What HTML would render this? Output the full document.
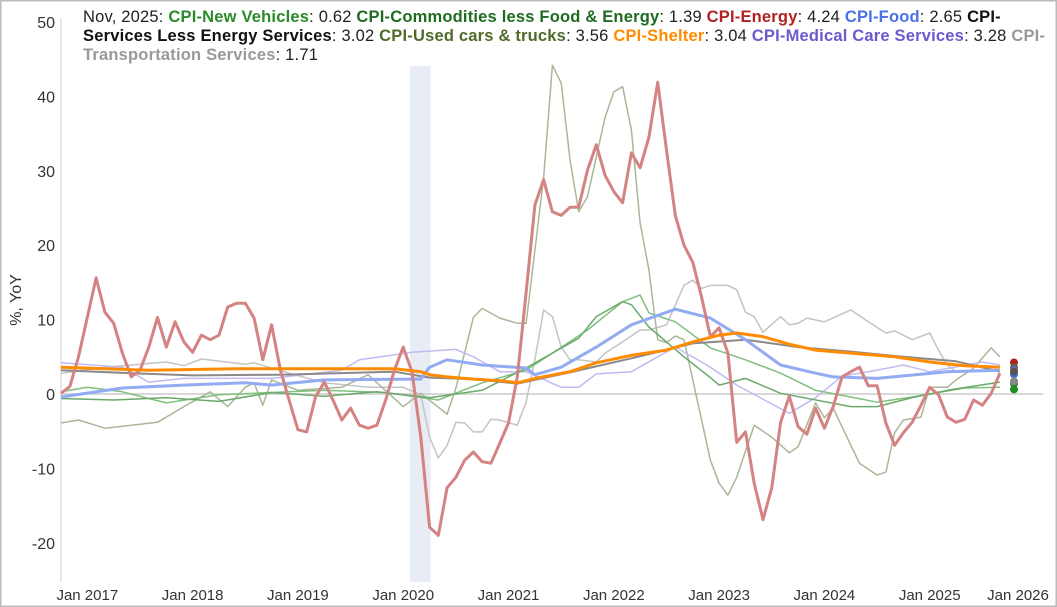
<!DOCTYPE html>
<html><head><meta charset="utf-8"><style>
body{margin:0;background:#fff;}
#wrap{position:relative;width:1057px;height:607px;font-family:"Liberation Sans",sans-serif;}
#legend{position:absolute;left:83px;top:8px;width:965px;font-size:16.5px;line-height:19px;color:#222;letter-spacing:0.2px;}
#legend b{font-weight:bold;}
</style></head><body>
<div id="wrap">
<svg id="svg" width="1057" height="607" style="position:absolute;left:0;top:0"></svg>
<div id="legend">Nov, 2025: <b style="color:#2a8a2a">CPI-New Vehicles</b>: 0.62 <b style="color:#1f6b1f">CPI-Commodities less Food &amp; Energy</b>: 1.39 <b style="color:#b22222">CPI-Energy</b>: 4.24 <b style="color:#4a72e8">CPI-Food</b>: 2.65 <b style="color:#111">CPI-Services Less Energy Services</b>: 3.02 <b style="color:#4f6b2a">CPI-Used cars &amp; trucks</b>: 3.56 <b style="color:#ff8c00">CPI-Shelter</b>: 3.04 <b style="color:#6a5acd">CPI-Medical Care Services</b>: 3.28 <b style="color:#999">CPI-Transportation Services</b>: 1.71</div>
</div>
<script>
const yTicks=[50,40,30,20,10,0,-10,-20];
const xLabels=["Jan 2017","Jan 2018","Jan 2019","Jan 2020","Jan 2021","Jan 2022","Jan 2023","Jan 2024","Jan 2025","Jan 2026"];
const xLabelMonths=[3,15,27,39,51,63,75,87,99,111];
const recession=[40,42];
const energyM=[0,1,2,3,4,5,6,7,8,9,10,11,12,13,14,15,16,17,18,19,20,21,22,23,24,25,26,27,28,29,30,31,32,33,34,35,36,37,38,39,40,41,42,43,44,45,46,47,48,49,50,51,52,53,54,55,56,57,58,59,60,61,62,63,64,65,66,67,68,69,70,71,72,73,74,75,76,77,78,79,80,81,82,83,84,85,86,87,88,89,90,91,92,93,94,95,96,97,98,99,100,101,102,103,104,105,106,107];
const energyV=[0.1,1,5,10.3,15.6,11,9.5,5.5,2.3,3.2,6.3,10.3,6.3,9.7,7,5.6,7.9,7.3,7.9,11.7,12.2,12.2,10.2,4.6,9.3,3.2,-0.8,-4.8,-5.1,-0.4,1.6,-0.8,-3.5,-1.9,-4.2,-4.6,-4.2,-0.8,3.2,6.3,3,-5.8,-17.9,-19,-12.6,-11.2,-8.9,-7.8,-9.1,-9.3,-6.6,-3.9,2.3,13.6,25.4,28.8,24.5,24,25.1,25.1,30.1,33.5,29.4,27.2,25.7,32.4,30.4,34.5,41.9,32.8,24,20,17.7,13,7.7,8.9,5.5,-6.5,-5.1,-12,-16.9,-12.6,-3.8,-0.3,-4.4,-5.4,-1.9,-4.6,-1.7,2.3,3,3.6,1.1,1.1,-3.9,-6.9,-5.2,-3.8,-1.5,0.9,-0.1,-3.1,-3.8,-3.4,-0.8,-1.5,0.1,2.8];
const shelterM=[0,10,20,30,38,41,42,44,47,50,52,54,58,61,65,69,72,75,77,80,83,86,90,95,99,103,107];
const shelterV=[3.6,3.2,3.4,3.4,3.4,3.0,2.6,2.3,2.0,1.8,1.5,2.1,3.0,4.2,5.2,5.9,7.0,7.9,8.2,7.7,6.7,5.9,5.5,5.0,4.3,3.8,3.6];
const servicesM=[0,8,15,25,38,42,47,52,58,65,72,78,84,90,96,102,107];
const servicesV=[3.2,2.8,2.5,2.6,3.0,2.2,2.0,1.4,2.9,4.8,6.8,7.3,6.3,5.7,5.0,4.4,3.0];
const foodM=[0,7,14,21,24,30,40,41,42,44,48,53,54,57,61,65,70,74,78,82,86,88,93,101,107];
const foodV=[-0.4,0.8,1.2,1.5,1.2,1.9,2.0,2.0,3.6,4.6,3.9,3.5,2.6,3.6,6.3,9.3,11.4,10.2,7.3,3.9,2.8,2.3,2.1,3.0,3.2];
const medicalM=[0,7,10,14,24,32,34,40,45,47,50,53,57,59,61,65,68,70,73,74,77,83,86,89,93,96,99,105,107];
const medicalV=[4.2,3.6,1.6,2.1,2.1,3.2,4.6,5.6,6.0,5.0,3.0,3.0,0.9,0.9,2.7,3.0,5.0,6.3,4.3,3.6,1.2,-2.6,-0.5,2.4,3.2,3.9,3.0,4.3,3.9];
const vehiclesM=[0,3,7,12,18,30,37,43,48,53,56,60,64,66,67,70,74,78,82,86,90,93,97,103,107];
const vehiclesV=[0.3,0.9,0.3,-1.2,-0.1,0.5,0.2,-0.8,1.5,3.2,5.5,8.6,12.4,13.3,10.9,9.7,6.2,4.6,2.8,0.5,-0.4,-1.1,-0.4,0.8,0.9];
const commodM=[0,6,12,18,24,30,36,42,48,53,56,59,61,64,65,67,71,74,75,78,82,90,93,97,101,107];
const commodV=[-0.6,-0.8,-0.5,-1.0,0.2,-0.3,0.3,-0.5,0.5,3.5,5.5,7.5,10.4,12.4,12.0,9.0,5.0,2.2,1.2,2.1,0.1,-1.7,-1.7,-0.5,0.5,1.6];
const usedM=[0,2,5,11,14,17,19,21,22,23,24,27,32,35,39,41,44,45,47,48,50,52,53,55,56,57,58,59,60,62,63,64,65,66,67,68,69,70,71,72,74,75,76,77,79,81,83,84,86,87,88,90,91,93,94,95,96,98,99,101,102,104,106,107];
const usedV=[-3.9,-3.5,-4.6,-3.8,-1.7,0.3,-1.7,0.9,1.5,-1.5,1.9,0.5,0.9,2.6,-1.7,0.1,-2.7,0.8,10.3,11.5,10.2,9.5,9.5,29,44.2,41.8,31.5,24.5,26.5,37.2,40.6,41.3,35.5,23,16.7,7.3,6.9,7.8,7.3,1.9,-8.9,-12,-13.6,-11.2,-4.2,-5.8,-7.9,-7.1,-1.2,-3.2,-1.9,-6.9,-9.3,-10.9,-10.5,-5.2,-3.5,-3.1,0.9,0.9,1.9,3.5,6.2,5.0];
const transM=[0,5,12,14,16,21,22,26,30,35,39,41,42,43,44,45,46,47,48,49,50,52,53,54,55,56,57,58,59,61,62,64,66,67,69,71,72,73,74,75,76,77,78,79,80,82,83,84,85,87,90,92,94,95,97,99,100,101,102,105,107];
const transV=[2.8,3.6,4.3,3.8,4.7,4.0,4.2,2.8,1.5,0.9,0.9,-0.1,-5.8,-8.6,-6.9,-3.8,-3.9,-5.1,-5.1,-3.4,-3.5,-4.2,-1.1,4.6,11.3,10.4,6.3,4.6,4.6,4.3,5.5,7.0,8.6,8.6,9.3,14.6,15.3,14.2,14.6,14.6,14.6,14.0,11.0,10.4,8.3,10.4,9.3,9.5,10.2,9.7,11.3,9.7,8.2,8.5,7.3,8.2,5.9,3.9,3.0,3.2,3.2];
const lastNames=["energy","used-cars","medical","shelter","food","services","commodities","transportation","new-vehicles"];
const lastValues=[4.24,3.56,3.28,3.04,2.65,3.02,1.39,1.71,0.62];
const lastColors=["#b22222","#556b2f","#6a5acd","#ff8c00","#4169e1","#555","#2e7d32","#888","#228b22"];

const NS="http://www.w3.org/2000/svg";
const svg=document.getElementById('svg');
const X0=61,MW=8.775,Y0=394,YS=7.44;
const xs=m=>X0+m*MW, ys=v=>Y0-v*YS;
function mk(t,a){const e=document.createElementNS(NS,t);for(const k in a)e.setAttribute(k,a[k]);svg.appendChild(e);return e;}
let e;
e=mk('rect',{x:0.5,y:0.5,width:1056,height:606,fill:'#fff',stroke:'#bbb','stroke-width':2});


e=mk('rect',{x:xs(recession[0])-2,y:66,width:(recession[1]-recession[0])*MW+3,height:516,fill:'#e8ecf5'});


e=mk('line',{x1:61,x2:1043,y1:ys(0),y2:ys(0),stroke:'#ccc','stroke-width':1.5});


e=mk('line',{x1:61,x2:61,y1:18,y2:582,stroke:'#ccc','stroke-width':1});


yTicks.forEach(v=>{const t=mk('text',{x:55,y:ys(v)+6,'text-anchor':'end','font-size':16,fill:'#333','font-family':'Liberation Sans, sans-serif'});t.textContent=v;

});
xLabels.forEach((l,i)=>{let cx=xs(xLabelMonths[i]);if(cx>1018)cx=1018;const t=mk('text',{x:cx,y:600,'text-anchor':'middle','font-size':15,fill:'#333','font-family':'Liberation Sans, sans-serif'});t.textContent=l;

});
e=mk('text',{x:0,y:0,transform:'translate(21,300) rotate(-90)','text-anchor':'middle','font-size':16,fill:'#333','font-family':'Liberation Sans, sans-serif'});e.textContent='%, YoY';


function line(M,V,col,w,name,op){const d=M.map((m,i)=>(i?'L':'M')+xs(m).toFixed(1)+','+ys(V[i]).toFixed(1)).join('');const p=mk('path',{d:d,fill:'none',stroke:col,'stroke-width':w,'stroke-linejoin':'round',opacity:op});

}
line(transM,transV,'#c4c4c4',1.5,'line-transportation',1);
line(usedM,usedV,'#a9b798',1.5,'line-used-cars',1);
line(medicalM,medicalV,'#c2baf2',1.5,'line-medical',1);
line(vehiclesM,vehiclesV,'#7fbf7f',1.5,'line-new-vehicles',1);
line(commodM,commodV,'#6aa96a',1.5,'line-commodities',1);
line(servicesM,servicesV,'#8a8a8a',2,'line-services',1);
line(foodM,foodV,'#92abf2',3,'line-food',1);
line(energyM,energyV,'#d48282',3,'line-energy',1);
line(shelterM,shelterV,'#ff8c00',3,'line-shelter',1);
lastValues.forEach((v,i)=>{const c=mk('circle',{cx:1014,cy:ys(v),r:4,fill:lastColors[i]});

});
</script>
</body></html>
